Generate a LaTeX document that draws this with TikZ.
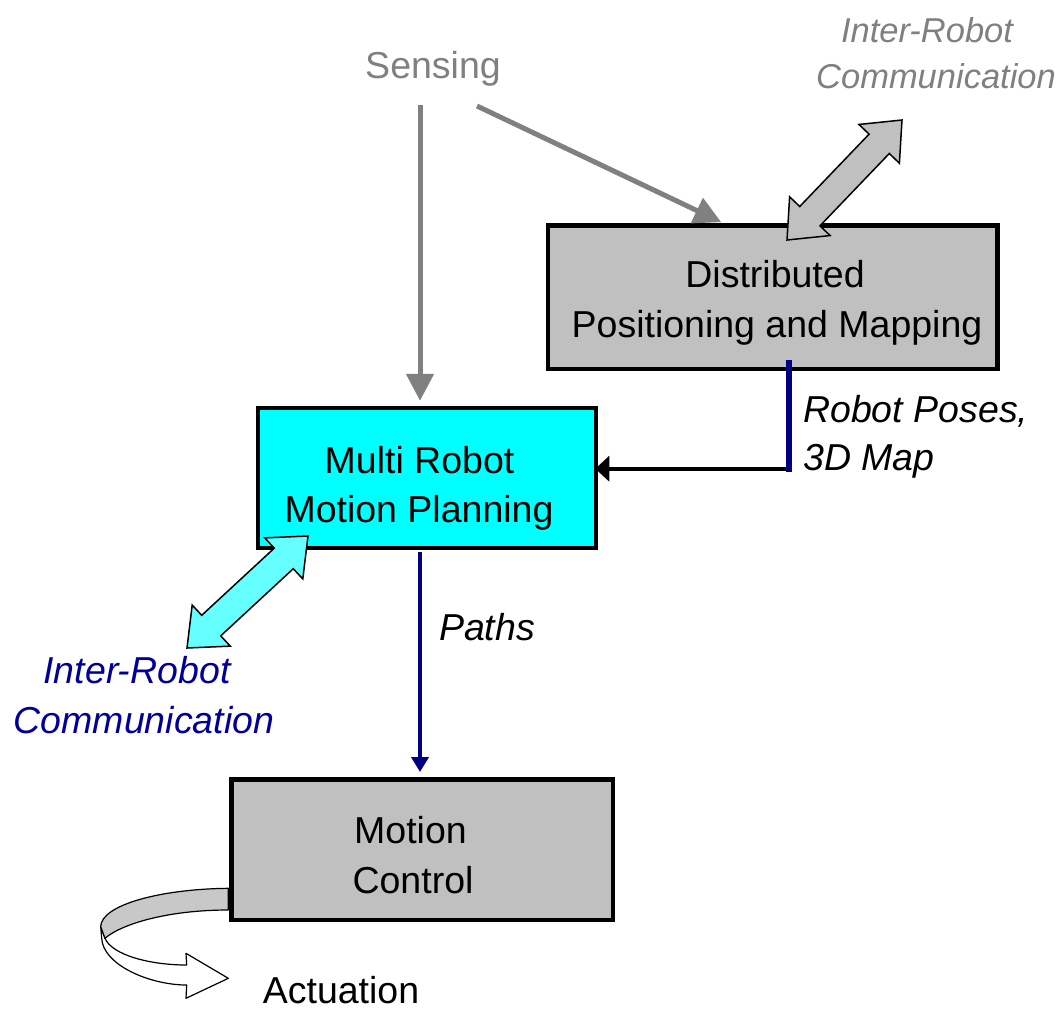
\documentclass[tikz,border=0pt]{standalone}
\usepackage{fontspec}
\setmainfont{Liberation Sans}
\usetikzlibrary{arrows.meta,calc}
\definecolor{boxgray}{RGB}{192,192,192}
\definecolor{boxcyan}{RGB}{0,255,255}
\definecolor{lightcyan}{RGB}{102,255,255}
\definecolor{navy}{RGB}{0,0,128}
\definecolor{bluetext}{RGB}{0,0,153}
\definecolor{arrowgray}{RGB}{128,128,128}
\definecolor{textgray}{RGB}{128,128,128}
\definecolor{ribbongray}{RGB}{200,200,200}
\tikzset{
  box/.style={draw=black, line width=4.5pt, inner sep=0pt},
  txt/.style={font=\fontsize{37.5}{45}\selectfont, inner sep=0pt, anchor=base},
  itxt/.style={font=\fontsize{37.5}{45}\selectfont\itshape, inner sep=0pt, anchor=base},
  sitxt/.style={font=\fontsize{34.5}{42}\selectfont\itshape, inner sep=0pt, anchor=base},
  grayarrow/.style={draw=arrowgray, line width=5pt, -{Triangle[length=27pt,width=27pt]}},
  navyarrow/.style={draw=navy, line width=4.5pt, -{Triangle[length=15pt,width=17pt]}},
  navyline/.style={draw=navy, line width=6pt},
  blackarrow/.style={draw=black, line width=4pt, -{Triangle[length=14pt,width=25pt]}},
  dblarrow/.style={draw=black, line width=1.5pt, line join=miter},
  ribbon/.style={draw=black, line width=1.2pt, line join=round}
}
\newcommand\twoheaded[3][]{%
  \coordinate (#2h) at ($(#2)!33pt!(#3)$);
  \coordinate (#3h) at ($(#3)!33pt!(#2)$);
  \draw[#1] (#2) -- ($(#2h)!28pt!90:(#3)$) -- ($(#2h)!14pt!90:(#3)$)
    -- ($(#3h)!14pt!-90:(#2)$) -- ($(#3h)!28pt!-90:(#2)$) -- (#3)
    -- ($(#3h)!28pt!90:(#2)$) -- ($(#3h)!14pt!90:(#2)$)
    -- ($(#2h)!14pt!-90:(#3)$) -- ($(#2h)!28pt!-90:(#3)$) -- cycle;}
\begin{document}
\begin{tikzpicture}[x=1pt,y=-1pt]
\useasboundingbox (0,0) rectangle (1064,1010);

% boxes
\node[box, fill=boxgray, minimum width=449.5pt, minimum height=143.5pt] (dist) at (772.5,297) {};
\node[box, fill=boxcyan, minimum width=338pt, minimum height=140pt] (mrmp) at (427,478) {};
\node[box, fill=boxgray, minimum width=381.5pt, minimum height=140.5pt] (mc) at (422,849.5) {};

% box texts
\node[txt] (dist1) at (775,287) {Distributed};
\node[txt] (dist2) at (777,337) {Positioning and Mapping};
\node[txt] (mr1) at (419.5,473) {Multi Robot};
\node[txt] (mr2) at (419,522) {Motion Planning};
\node[txt] (mc1) at (410.5,843) {Motion};
\node[txt] (mc2) at (413,893) {Control};

% free labels
\node[txt, text=textgray] (sense) at (433,78) {Sensing};
\node[sitxt, text=textgray] (irt1) at (927,42) {Inter-Robot};
\node[sitxt, text=textgray] (irt2) at (936,88) {Communication};
\node[itxt, text=bluetext] (irl1) at (137,683) {Inter-Robot};
\node[itxt, text=bluetext] (irl2) at (144,733) {Communication};
\node[itxt, anchor=base west] (rp1) at (803,422) {Robot Poses,};
\node[itxt, anchor=base west] (rp2) at (803,470) {3D Map};
\node[itxt] (paths) at (487,640) {Paths};
\node[txt] (act) at (341,1003) {Actuation};

% sensing arrows
\coordinate (s1) at (420,105);
\draw[grayarrow, shorten >=5pt] (s1) -- (s1 |- mrmp.north);
\coordinate (s2) at (477,106);
\draw[grayarrow, shorten >=2pt] (s2) -- ([xshift=-49.5pt]dist.north);

% robot poses connector
\coordinate (rpt) at (789,360);
\coordinate (rpb) at (789,472);
\coordinate (rpc) at (789,468.7);
\draw[blackarrow, shorten >=-3pt] (rpc) -- (rpc -| mrmp.east);
\draw[navyline] (rpt) -- (rpb);

% paths
\draw[navyarrow, shorten >=5pt] ([xshift=-7pt,yshift=-2pt]mrmp.south) -- ([xshift=-7pt]mrmp.south |- mc.north);

% inter-robot double arrows
\coordinate (ta) at (787,240);
\coordinate (tb) at (902,120);
\twoheaded[dblarrow, fill=boxgray]{ta}{tb}
\coordinate (la) at (187,648);
\coordinate (lb) at (308,536);
\twoheaded[dblarrow, fill=lightcyan]{la}{lb}

% actuation ribbon arrow
\draw[ribbon, fill=white] (100.7,926.7) -- (101.7,938.3)
  .. controls (103,965) and (150,985) .. (186.7,985) -- (186,998.3) -- (228.3,978.3)
  -- (186,953.3) -- (186.7,965) .. controls (150,965) and (112,955) .. (105,938.3) -- cycle;
\draw[ribbon, fill=ribbongray] (228.3,888.3) .. controls (160,889) and (101,905) .. (100.7,926.7)
  -- (105,938.3) .. controls (120,925) and (165,910) .. (228.3,910) -- cycle;
\end{tikzpicture}
\end{document}
